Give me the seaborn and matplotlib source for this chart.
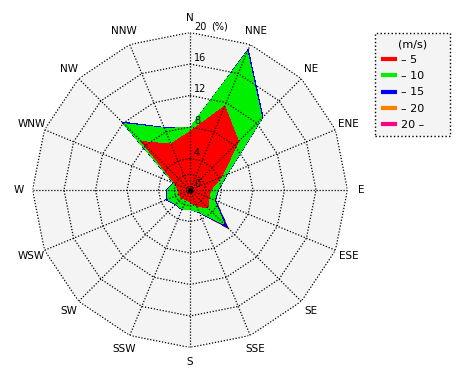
import matplotlib
matplotlib.use("Agg")
import matplotlib.pyplot as plt
from matplotlib.lines import Line2D
import numpy as np
import seaborn as sns

# wind rose: frequency (%) of each speed class per direction
directions = ["N", "NNE", "NE", "ENE", "E", "ESE", "SE", "SSE",
              "S", "SSW", "SW", "WSW", "W", "WNW", "NW", "NNW"]
speed_labels = ["\u2013 5", "\u2013 10", "\u2013 15", "\u2013 20", "20 \u2013"]
speed_colors = ["#ff0000", "#00f000", "#0000ff", "#ff8000", "#ff0080"]

freq_0_5 = [7.4, 11.5, 8.7, 4.3, 2.6, 2.6, 3.2, 2.2, 1.5, 1.3, 1.5, 1.5, 1.5, 2.0, 8.7, 6.3]
freq_5_10 = [0.5, 7.5, 4.2, 0.7, 0.9, 0.7, 2.9, 0.8, 1.0, 1.3, 1.0, 1.6, 1.3, 0.2, 3.2, 2.2]
freq_10_15 = [0.0, 0.3, 0.2, 0.1, 0.1, 0.2, 0.6, 0.1, 0.0, 0.1, 0.1, 0.2, 0.2, 0.1, 0.3, 0.1]
freq_15_20 = [0.0, 0.0, 0.0, 0.0, 0.0, 0.05, 0.2, 0.0, 0.0, 0.0, 0.0, 0.0, 0.0, 0.0, 0.0, 0.0]
freq_20_up = [0.0] * 16

ring_values = [2, 4, 8, 12, 16, 20]
ring_labels = [4, 8, 12, 16, 20]
r_max = 20

sns.set_style("white")
plt.rcParams["font.family"] = ["DejaVu Sans"]
plt.rcParams["text.color"] = "black"

theta = np.deg2rad(np.arange(len(directions)) * 22.5)
theta_c = np.append(theta, theta[0])

fig = plt.figure(figsize=(4.7, 3.8), dpi=100)
ax = fig.add_axes([32.5 / 470, 32.5 / 380, 315 / 470, 315 / 380], projection="polar")
ax.set_theta_zero_location("N")
ax.set_theta_direction(-1)
ax.set_ylim(0, r_max)
ax.axis("off")

# grey background inside the outer ring
ax.fill(theta_c, np.full(len(theta_c), r_max), color="#f4f4f4", lw=0, zorder=0)

# stacked (cumulative) classes, outermost first
cum = np.cumsum(np.array([freq_0_5, freq_5_10, freq_10_15, freq_15_20, freq_20_up]), axis=0)
for k in reversed(range(len(speed_labels))):
    r = np.append(cum[k], cum[k][0])
    ax.fill(theta_c, r, color=speed_colors[k], lw=0, antialiased=False, zorder=1 + (5 - k) * 0.1)

# dotted polygon rings and spokes
dots = (0, (1, 1.4))
for rv in ring_values:
    sns.lineplot(x=theta_c, y=np.full(len(theta_c), rv), sort=False, estimator=None,
                 ax=ax, color="black", lw=0.9, linestyle=dots, zorder=3)
for t in theta:
    sns.lineplot(x=[t, t], y=[0, r_max], sort=False, estimator=None,
                 ax=ax, color="black", lw=0.9, linestyle=dots, zorder=3)
ax.plot([0], [0], "o", color="black", ms=2.5, zorder=4)
ax.set_ylim(0, r_max)

# labels
for t, d in zip(theta, directions):
    ax.text(t, 21.8, d, ha="center", va="center", fontsize=7.5, color="black", clip_on=False)
for v in [0] + ring_labels:
    ax.annotate(str(v), xy=(0, v), xytext=(4, 1), textcoords="offset pixels",
                ha="left", va="bottom", fontsize=7, color="black", zorder=5)
ax.annotate("(%)", xy=(0, r_max), xytext=(21, 1), textcoords="offset pixels",
            ha="left", va="bottom", fontsize=7, color="black")

handles = [Line2D([], [], color=c, lw=3, solid_capstyle="butt") for c in speed_colors]
leg = fig.legend(handles, speed_labels, title="(m/s)", loc="upper left",
                 bbox_to_anchor=(375 / 470, 0, 75 / 470, 1 - 33 / 380), mode="expand",
                 borderaxespad=0, fontsize=8, title_fontsize=8, handlelength=1.4,
                 handletextpad=0.4, labelspacing=0.55, borderpad=0.55,
                 fancybox=False, framealpha=1)
frame = leg.get_frame()
frame.set_edgecolor("black")
frame.set_linestyle(":")
frame.set_linewidth(1)
frame.set_facecolor("#f4f4f4")

plt.savefig("out.png", dpi=100)
plt.close()
